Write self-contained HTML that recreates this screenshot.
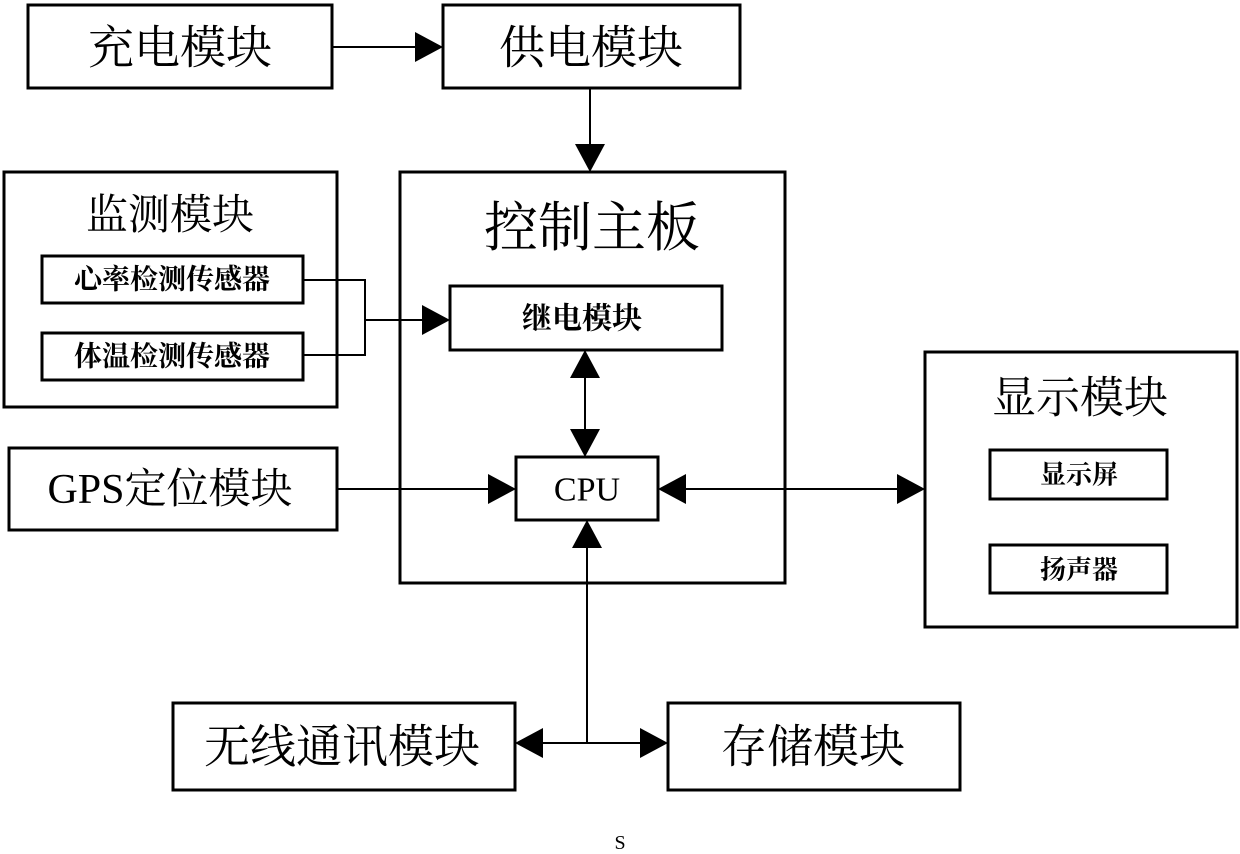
<!DOCTYPE html>
<html><head><meta charset="utf-8"><style>
html,body{margin:0;padding:0;background:#fff;}
svg{display:block;}
text{font-family:"Liberation Serif","Noto Serif CJK SC",serif;fill:#000;text-anchor:middle;dominant-baseline:central;}
</style></head><body>
<svg width="1240" height="854" viewBox="0 0 1240 854" xmlns="http://www.w3.org/2000/svg">
<defs>
<marker id="a" viewBox="0 0 10 10" refX="10" refY="5" markerWidth="10" markerHeight="10" markerUnits="userSpaceOnUse" orient="auto">
<path d="M0,0 L10,5 L0,10 z" fill="#000"/>
</marker>
</defs>
<g fill="none" stroke="#000" stroke-width="3">
<rect x="28" y="5" width="304" height="83"/>
<rect x="443" y="5" width="297" height="83"/>
<rect x="400" y="172" width="385" height="411"/>
<rect x="4" y="172" width="333" height="235"/>
<rect x="42" y="256" width="261" height="47"/>
<rect x="42" y="333" width="261" height="47"/>
<rect x="450" y="286" width="272" height="64"/>
<rect x="516" y="457" width="142" height="63"/>
<rect x="9" y="448" width="328" height="82"/>
<rect x="925" y="352" width="312" height="275"/>
<rect x="990" y="450" width="177" height="49"/>
<rect x="990" y="545" width="177" height="48"/>
<rect x="173" y="703" width="342" height="87"/>
<rect x="668" y="703" width="292" height="87"/>
</g>
<g stroke="#000" stroke-width="2" fill="none">
<polyline points="303,280 365,280 365,355 303,355"/>
<line x1="365" y1="320" x2="422" y2="320"/>
<line x1="332" y1="47" x2="415" y2="47"/>
<line x1="590" y1="88" x2="590" y2="144"/>
<line x1="585" y1="378" x2="585" y2="429"/>
<line x1="337" y1="489" x2="488" y2="489"/>
<line x1="686" y1="489" x2="897" y2="489"/>
<line x1="587" y1="548" x2="587" y2="743"/>
<line x1="543" y1="743" x2="640" y2="743"/>
</g>
<g fill="#000">
<path d="M415,32 L443,47 L415,62 z"/>
<path d="M575,144 L590,172 L605,144 z"/>
<path d="M422,305 L450,320 L422,335 z"/>
<path d="M570,378 L585,350 L600,378 z"/>
<path d="M570,429 L585,457 L600,429 z"/>
<path d="M488,474 L516,489 L488,504 z"/>
<path d="M686,474 L658,489 L686,504 z"/>
<path d="M897,474 L925,489 L897,504 z"/>
<path d="M572,548 L587,520 L602,548 z"/>
<path d="M543,728 L515,743 L543,758 z"/>
<path d="M640,728 L668,743 L640,758 z"/>
</g>
<text x="180" y="48" font-size="46">充电模块</text>
<text x="591" y="48" font-size="46">供电模块</text>
<text x="592" y="228" font-size="54">控制主板</text>
<text x="170" y="216" font-size="42">监测模块</text>
<text x="172" y="280" font-size="28" font-weight="bold">心率检测传感器</text>
<text x="172" y="357" font-size="28" font-weight="bold">体温检测传感器</text>
<text x="582" y="319" font-size="30" font-weight="bold">继电模块</text>
<text x="587" y="490" font-size="34">CPU</text>
<text x="170" y="490" font-size="42">GPS定位模块</text>
<text x="1080" y="398" font-size="44">显示模块</text>
<text x="1079" y="475" font-size="26" font-weight="bold">显示屏</text>
<text x="1079" y="570" font-size="26" font-weight="bold">扬声器</text>
<text x="342" y="747" font-size="46">无线通讯模块</text>
<text x="813" y="747" font-size="46">存储模块</text>
<text x="620" y="843" font-size="20">S</text>
</svg>
</body></html>
